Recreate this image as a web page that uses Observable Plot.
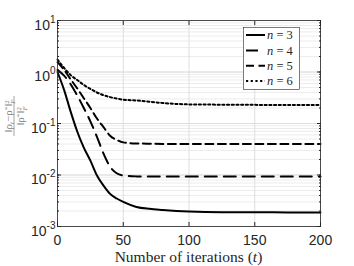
<!DOCTYPE html>
<html><head><meta charset="utf-8">
<script src="https://cdn.jsdelivr.net/npm/d3@7"></script>
<script src="https://cdn.jsdelivr.net/npm/@observablehq/plot@0.6"></script>
<style>html,body{margin:0;padding:0;background:#fff} svg{display:block}</style>
</head><body><div id="chart"></div>
<script>
// ---- data ----
const t  = [0,5,10,15,20,25,30,35,40,45,50,60,70,80,100,125,150,175,200];
const n3 = [1.0,0.45,0.17,0.07,0.034,0.019,0.0098,0.0062,0.0043,0.0035,0.003,0.0024,0.0022,0.0021,0.00196,0.0019,0.0019,0.00188,0.00187];
const n4 = [1.1,0.85,0.58,0.35,0.2,0.11,0.055,0.026,0.0145,0.0108,0.0098,0.0094,0.0093,0.0093,0.0093,0.0093,0.0093,0.0093,0.0093];
const n5 = [1.55,1.1,0.72,0.48,0.31,0.2,0.125,0.085,0.058,0.048,0.043,0.041,0.0405,0.04,0.04,0.04,0.04,0.04,0.04];
const n6 = [1.75,1.2,0.87,0.7,0.56,0.47,0.4,0.355,0.325,0.305,0.29,0.28,0.265,0.25,0.235,0.232,0.23,0.229,0.228];
const seriesNames = ["n = 3","n = 4","n = 5","n = 6"];
const seriesValues = [n3, n4, n5, n6];
const xTicks = [0,50,100,150,200];
const yTicks = [1e-3,1e-2,1e-1,1,10];
const yExp = ["-3","-2","-1","0","1"];
const xLabel = "Number of iterations (";

// ---- styles ----
const dashes = [null, "12,7", "8,4.5", "2.2,2.5"];

const rows = [];
seriesNames.forEach((name, i) => t.forEach((tt, j) => rows.push({series: name, t: tt, v: seriesValues[i][j]})));
const minorY = d3.scaleLog().domain([1e-3, 10]).ticks();

const ink = "#262626";
const chart = Plot.plot({
  width: 354, height: 266,
  marginLeft: 57, marginRight: 34, marginTop: 20, marginBottom: 40,
  style: {fontFamily: "'Liberation Sans', Arial, sans-serif", fontSize: "14px", color: ink, background: "#fff", overflow: "visible"},
  x: {domain: [0, 200]},
  y: {type: "log", domain: [1e-3, 10]},
  marks: [
    Plot.gridY(minorY, {stroke: "#ececec", strokeOpacity: 1}),
    Plot.gridX(xTicks, {stroke: "#dedede", strokeOpacity: 1}),
    Plot.gridY(yTicks, {stroke: "#dedede", strokeOpacity: 1}),
    ...seriesNames.map((name, i) => Plot.line(rows.filter(r => r.series === name), {
      x: "t", y: "v", stroke: "#000", strokeWidth: 2, strokeDasharray: dashes[i], curve: "monotone-x"
    })),
    Plot.frame({stroke: ink, strokeWidth: 0.8}),
    Plot.axisY(yTicks, {anchor: "left", tickSize: -4, tickPadding: 6, tickFormat: () => "10", label: null, stroke: ink}),
    Plot.axisX(xTicks, {anchor: "bottom", tickSize: -4, tickPadding: 13, label: null, stroke: ink}),
    Plot.axisX(xTicks, {anchor: "top", tickSize: -4, tickFormat: () => "", label: null, stroke: ink}),
    Plot.axisY(yTicks, {anchor: "right", tickSize: -4, tickFormat: () => "", label: null, stroke: ink}),
    Plot.axisY(minorY, {anchor: "left", tickSize: -2, tickFormat: () => "", label: null, stroke: ink}),
    Plot.axisY(minorY, {anchor: "right", tickSize: -2, tickFormat: () => "", label: null, stroke: ink})
  ]
});
document.getElementById("chart").appendChild(chart);

const svg = d3.select(chart);
// superscript exponents on y tick labels
svg.select('g[aria-label="y-axis tick label"]').selectAll("text").each(function(d, i) {
  const el = d3.select(this);
  el.text(null);
  el.append("tspan").attr("dy", "5").text("10");
  el.append("tspan").attr("dy", "-7").attr("font-size", "10px").text(yExp[i]);
});

const serif = "'Liberation Serif', 'DejaVu Serif', serif";
// x axis label
const xl = svg.append("text").attr("x", 188.5).attr("y", 262).attr("text-anchor", "middle")
  .attr("font-family", serif).attr("font-size", 15.5).attr("fill", ink);
xl.append("tspan").text(xLabel);
xl.append("tspan").attr("font-style", "italic").text("t");
xl.append("tspan").text(")");

// y axis label (fraction), rotated
const yl = svg.append("g").attr("transform", "translate(14,116) rotate(-90)")
  .attr("fill", "#808080").attr("font-family", serif).attr("font-size", 11).attr("text-anchor", "middle");
const num = yl.append("text").attr("x", 0).attr("y", -2.5);
num.append("tspan").text("\u2016\u03c1");
num.append("tspan").attr("font-size", 7).attr("dy", 2).attr("font-style", "italic").text("t");
num.append("tspan").attr("dy", -2).text("\u2212\u03c1");
num.append("tspan").attr("font-size", 7).attr("dy", -3).text("*");
num.append("tspan").attr("dy", 3).text("\u2016");
num.append("tspan").attr("font-size", 7).attr("dy", -3).text("2");
num.append("tspan").attr("font-size", 7).attr("dy", 6).attr("dx", -3.5).attr("font-style", "italic").text("F");
yl.append("line").attr("x1", -20).attr("x2", 20).attr("y1", 0).attr("y2", 0).attr("stroke", "#808080").attr("stroke-width", 0.7);
const den = yl.append("text").attr("x", 0).attr("y", 9.5);
den.append("tspan").text("\u2016\u03c1");
den.append("tspan").attr("font-size", 7).attr("dy", -3).text("*");
den.append("tspan").attr("dy", 3).text("\u2016");
den.append("tspan").attr("font-size", 7).attr("dy", -3).text("2");
den.append("tspan").attr("font-size", 7).attr("dy", 6).attr("dx", -3.5).attr("font-style", "italic").text("F");

// legend
const lg = svg.append("g").attr("text-anchor", "start");
lg.append("rect").attr("x", 243.5).attr("y", 27.5).attr("width", 56).attr("height", 62)
  .attr("fill", "#fff").attr("stroke", ink).attr("stroke-width", 0.6);
const rowY = [35, 50.5, 65.7, 81];
seriesNames.forEach((name, i) => {
  lg.append("line").attr("x1", 246).attr("x2", 265).attr("y1", rowY[i]).attr("y2", rowY[i])
    .attr("stroke", "#000").attr("stroke-width", 2).attr("stroke-dasharray", dashes[i]);
  const tx = lg.append("text").attr("x", 267).attr("y", rowY[i]).attr("dy", "0.35em")
    .attr("font-family", serif).attr("font-size", 12.5).attr("fill", ink);
  tx.append("tspan").attr("font-style", "italic").text(name.slice(0, 1));
  tx.append("tspan").text(name.slice(1));
});
</script>
</body></html>
